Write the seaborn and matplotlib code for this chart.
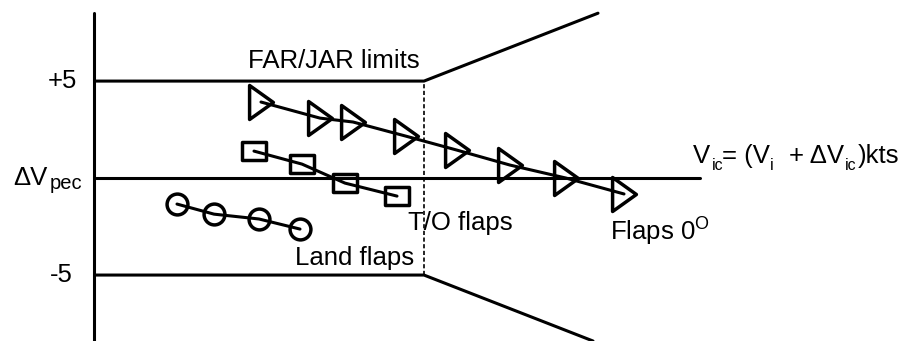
import matplotlib
matplotlib.use("Agg")
import matplotlib.pyplot as plt
from matplotlib.path import Path
import seaborn as sns

# --- DATA ---
# x: indicated airspeed scale (arbitrary units), y: position error correction dVpec (kts)
flaps0_v = [26.1, 32.0, 35.3, 40.6, 45.7, 51.0, 56.6, 62.4]
flaps0_dv = [3.92, 3.09, 2.89, 2.16, 1.44, 0.67, 0.0, -0.82]
to_v = [25.4, 30.2, 34.5, 39.7]
to_dv = [1.39, 0.72, -0.26, -0.93]
land_v = [17.7, 21.4, 25.9, 30.0]
land_dv = [-1.34, -1.86, -2.11, -2.63]

# FAR/JAR limit envelope
upper_v = [9.6, 42.4, 59.8]
upper_dv = [5, 5, 8.5]
lower_v = [9.6, 42.4, 59.3]
lower_dv = [-5, -5, -8.4]
zero_v = [9.6, 70.0]
zero_dv = [0, 0]
split_v = [42.4, 42.4]
split_dv = [-5, 5]
axis_v = [9.4, 9.4]
axis_dv = [8.5, -9.0]

# --- STYLE ---
sns.set_theme(style="white")
plt.rcParams["font.family"] = ["Liberation Sans", "DejaVu Sans"]
plt.rcParams["mathtext.default"] = "regular"

tri = Path([(0.7, 0), (-0.7, 1), (-0.7, -1), (0.7, 0)], closed=True)
rect = Path([(-1, -0.74), (1, -0.74), (1, 0.74), (-1, 0.74), (-1, -0.74)], closed=True)

fig = plt.figure(figsize=(8.98, 3.41), dpi=100)
ax = fig.add_axes([0, 0, 1, 1])
ax.set_xlim(0, 89.8)
ax.set_ylim(-8.40, 9.18)
ax.axis("off")

line_kw = dict(color="black", lw=2.2, estimator=None, sort=False, ax=ax, legend=False)

# envelope
sns.lineplot(x=axis_v, y=axis_dv, **line_kw)
sns.lineplot(x=upper_v, y=upper_dv, **line_kw)
sns.lineplot(x=lower_v, y=lower_dv, **line_kw)
sns.lineplot(x=zero_v, y=zero_dv, **line_kw)
sns.lineplot(x=split_v, y=split_dv, color="black", lw=1.2, linestyle=(0, (2.5, 1.5)),
             estimator=None, sort=False, ax=ax, legend=False)

# calibration points
sns.lineplot(x=flaps0_v, y=flaps0_dv, marker=tri, markersize=24.5, mfc="none",
             mec="black", mew=2.5, **line_kw)
sns.lineplot(x=to_v, y=to_dv, marker=rect, markersize=17.5, mfc="none",
             mec="black", mew=2.5, **line_kw)
sns.lineplot(x=land_v, y=land_dv, marker="o", markersize=15, mfc="none",
             mec="black", mew=2.5, **line_kw)

fs = 18.5
sub = 11.5
txt = dict(color="black", ha="left", va="baseline")
ax.text(6.2, 5, "+5", fontsize=fs, color="black", ha="center", va="center")
ax.text(6.1, -5, "-5", fontsize=fs, color="black", ha="center", va="center")
ax.text(1.3, -0.36, "ΔV", fontsize=fs, **txt)
ax.text(5.0, -0.55, "pec", fontsize=14.5, **txt)
ax.text(24.8, 5.67, "FAR/JAR limits", fontsize=fs, **txt)
ax.text(29.5, -4.48, "Land flaps", fontsize=fs, **txt)
ax.text(40.8, -2.68, "T/O flaps", fontsize=fs, **txt)
ax.text(61.0, -3.2, "Flaps 0$^{O}$", fontsize=fs, **txt)

# Vic = (Vi + dVic) kts
ax.text(69.3, 0.77, "V", fontsize=fs, **txt)
ax.text(71.2, 0.41, "ic", fontsize=sub, **txt)
ax.text(72.2, 0.77, "= (V", fontsize=fs, **txt)
ax.text(77.0, 0.41, "i", fontsize=sub, **txt)
ax.text(78.9, 0.77, "+ ΔV", fontsize=fs, **txt)
ax.text(84.5, 0.41, "ic", fontsize=sub, **txt)
ax.text(85.8, 0.77, ")kts", fontsize=fs, **txt)

fig.savefig("out.png", dpi=100, facecolor="white")
